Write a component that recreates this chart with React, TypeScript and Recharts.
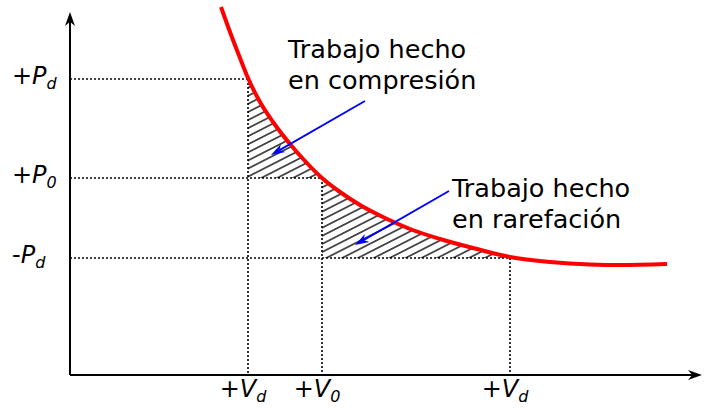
import {
  ComposedChart,
  Line,
  Area,
  XAxis,
  YAxis,
  ReferenceLine,
  ReferenceDot,
} from 'recharts';

// volume (x) and pressure (y) of the red curve
const curveV = [151, 160, 170, 178, 190, 203, 220, 235, 252, 270, 290, 315, 340, 370, 405, 440, 480, 520, 550, 597];
const curveP = [368, 343, 317, 297, 273, 253, 231, 214, 197, 183, 170, 157, 146, 136, 126.5, 118, 113, 110.5, 110, 111];

const volTicks = [178, 252, 440];
const volSubs = ['d', '0', 'd'];

const presTicks = [296, 197, 117];
const presSigns = ['+', '+', '-'];
const presSubs = ['d', '0', 'd'];

const axisTip = { v: 632, p: 363 };

const arrowFrom = [[295, 274], [379, 184]];
const arrowTo = [[201, 220], [285, 130]];
const noteAt = [[218, 317], [382, 178]];
const noteLines = [
  ['Trabajo hecho', 'en compresión'],
  ['Trabajo hecho', 'en rarefación'],
];

const FONT = 'DejaVu Sans';

const curve = curveV.map((v, i) => ({ v, p: curveP[i] }));

const hatchUpper = curve
  .filter((d) => d.v >= volTicks[0] && d.v <= volTicks[1])
  .map((d) => ({ v: d.v, band: [presTicks[1], Math.max(d.p, presTicks[1])] }));

const hatchLower = curve
  .filter((d) => d.v >= volTicks[1] && d.v <= volTicks[2])
  .map((d) => ({ v: d.v, band: [presTicks[2], d.p] }));

const headPath = (x1: number, y1: number, x2: number, y2: number, len: number, half: number) => {
  const dx = x2 - x1;
  const dy = y2 - y1;
  const L = Math.hypot(dx, dy) || 1;
  const ux = dx / L;
  const uy = dy / L;
  const px = -uy;
  const py = ux;
  const bx = x2 - ux * len;
  const by = y2 - uy * len;
  const nx = x2 - ux * len * 0.7;
  const ny = y2 - uy * len * 0.7;
  return {
    d: `M${x2},${y2} L${bx + px * half},${by + py * half} L${nx},${ny} L${bx - px * half},${by - py * half} Z`,
    nx,
    ny,
  };
};

const makeArrow = (color: string, width: number, len: number, half: number) => (props: any) => {
  const { x1, y1, x2, y2 } = props;
  const h = headPath(x1, y1, x2, y2, len, half);
  return (
    <g>
      <line x1={x1} y1={y1} x2={h.nx} y2={h.ny} stroke={color} strokeWidth={width} />
      <path d={h.d} fill={color} stroke="none" />
    </g>
  );
};

const AxisArrow = makeArrow('#000', 2, 14, 5);
const BlueArrow = makeArrow('#0000ff', 1.8, 14, 4.5);

const VTick = (props: any) => {
  const { x, y, payload } = props;
  const i = volTicks.indexOf(payload.value);
  return (
    <text x={x - 5} y={y + 22} textAnchor="middle" fontFamily={FONT} fontSize={24} fill="#000">
      +<tspan fontStyle="italic">V</tspan>
      <tspan fontStyle="italic" fontSize={16} dy={5}>{volSubs[i]}</tspan>
    </text>
  );
};

const PTick = (props: any) => {
  const { y, payload } = props;
  const i = presTicks.indexOf(payload.value);
  return (
    <text x={12} y={y + 5} textAnchor="start" fontFamily={FONT} fontSize={24} fill="#000">
      {presSigns[i]}
      <tspan fontStyle="italic">P</tspan>
      <tspan fontStyle="italic" fontSize={16} dy={5}>{presSubs[i]}</tspan>
    </text>
  );
};

const makeNote = (lines: string[]) => (props: any) => {
  const { cx, cy } = props;
  return (
    <text x={cx} y={cy} fontFamily={FONT} fontSize={25.5} fill="#000">
      {lines.map((t, k) => (
        <tspan key={k} x={cx} dy={k === 0 ? 0 : 31}>{t}</tspan>
      ))}
    </text>
  );
};

const dotted = { stroke: '#000', strokeWidth: 1.6, strokeDasharray: '2 2' };

export default function App() {
  return (
    <div style={{ position: 'absolute', left: 0, top: 0, width: 720, height: 409, background: '#fff' }}>
      <ComposedChart width={720} height={409} margin={{ top: 0, right: 0, bottom: 0, left: 0 }}>
        <defs>
          <pattern id="hatch" width="10" height="7.2" patternUnits="userSpaceOnUse" patternTransform="rotate(-27)">
            <line x1="0" y1="3.6" x2="10" y2="3.6" stroke="#000" strokeWidth="1.3" />
          </pattern>
        </defs>
        <XAxis
          type="number"
          dataKey="v"
          domain={[0, 650]}
          allowDataOverflow
          ticks={volTicks}
          interval={0}
          height={34}
          axisLine={false}
          tickLine={false}
          tickSize={0}
          tickMargin={0}
          tick={<VTick />}
        />
        <YAxis
          type="number"
          domain={[0, 375]}
          allowDataOverflow
          ticks={presTicks}
          interval={0}
          width={70}
          axisLine={false}
          tickLine={false}
          tickSize={0}
          tickMargin={0}
          tick={<PTick />}
        />

        {presTicks.map((p, i) => (
          <ReferenceLine
            key={`h${i}`}
            segment={[{ x: 0, y: p }, { x: volTicks[i], y: p }]}
            ifOverflow="visible"
            {...dotted}
          />
        ))}
        {volTicks.map((v, i) => (
          <ReferenceLine
            key={`v${i}`}
            segment={[{ x: v, y: presTicks[i] }, { x: v, y: 0 }]}
            ifOverflow="visible"
            {...dotted}
          />
        ))}

        <Area
          data={hatchUpper}
          dataKey="band"
          type="monotone"
          stroke="none"
          fill="url(#hatch)"
          fillOpacity={1}
          isAnimationActive={false}
        />
        <Area
          data={hatchLower}
          dataKey="band"
          type="monotone"
          stroke="none"
          fill="url(#hatch)"
          fillOpacity={1}
          isAnimationActive={false}
        />
        <Line
          data={curve}
          dataKey="p"
          type="monotone"
          stroke="#ff0000"
          strokeWidth={4}
          dot={false}
          isAnimationActive={false}
        />

        <ReferenceLine segment={[{ x: 0, y: 0 }, { x: axisTip.v, y: 0 }]} ifOverflow="visible" shape={AxisArrow} />
        <ReferenceLine segment={[{ x: 0, y: 0 }, { x: 0, y: axisTip.p }]} ifOverflow="visible" shape={AxisArrow} />

        {arrowFrom.map((f, i) => (
          <ReferenceLine
            key={`a${i}`}
            segment={[{ x: f[0], y: f[1] }, { x: arrowTo[i][0], y: arrowTo[i][1] }]}
            ifOverflow="visible"
            shape={BlueArrow}
          />
        ))}
        {noteAt.map((n, i) => (
          <ReferenceDot key={`n${i}`} x={n[0]} y={n[1]} r={0} ifOverflow="visible" shape={makeNote(noteLines[i])} />
        ))}
      </ComposedChart>
    </div>
  );
}
